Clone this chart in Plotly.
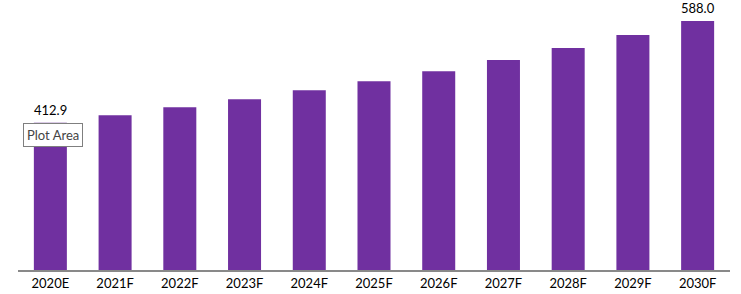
import plotly.graph_objects as go

categories = ["2020E", "2021F", "2022F", "2023F", "2024F", "2025F",
              "2026F", "2027F", "2028F", "2029F", "2030F"]
values = [412.9, 425.8, 439.6, 453.4, 468.9, 484.5, 501.7, 520.7, 541.4, 563.8, 588.0]
label_idx = [0, 10]

BAR_COLOR = "#7030A0"
FONT = "Lato, Carlito, Calibri, sans-serif"

fig = go.Figure()
fig.add_trace(go.Bar(
    x=categories, y=values,
    marker=dict(color=BAR_COLOR, line=dict(width=0)),
    hoverinfo="skip",
))

annotations = []
for i in label_idx:
    annotations.append(dict(
        x=categories[i], y=values[i], xref="x", yref="y",
        text=f"{values[i]:.1f}", showarrow=False,
        yanchor="bottom", yshift=3,
        font=dict(family=FONT, size=13, color="#000000"),
    ))

# "Plot Area" tooltip box seen in the reference
annotations.append(dict(
    x=categories[0], y=values[0], xref="x", yref="y",
    text="Plot Area", showarrow=False,
    xanchor="center", yanchor="top", xshift=3, yshift=0,
    font=dict(family=FONT, size=13, color="#444444"),
    bgcolor="#FFFFFF", bordercolor="#7F7F7F", borderwidth=1, borderpad=3,
))

fig.update_layout(
    width=741, height=294,
    margin=dict(l=18, r=11, t=0, b=24),
    paper_bgcolor="white", plot_bgcolor="white",
    bargap=0.49,
    showlegend=False,
    annotations=annotations,
    xaxis=dict(
        type="category",
        showline=True, linecolor="#898989", linewidth=2,
        showgrid=False, ticks="",
        tickfont=dict(family=FONT, size=13, color="#000000"),
        fixedrange=True,
    ),
    yaxis=dict(
        visible=False, range=[159.3, 624.2], showgrid=False, zeroline=False,
        fixedrange=True,
    ),
)

fig.write_html("out.html")
